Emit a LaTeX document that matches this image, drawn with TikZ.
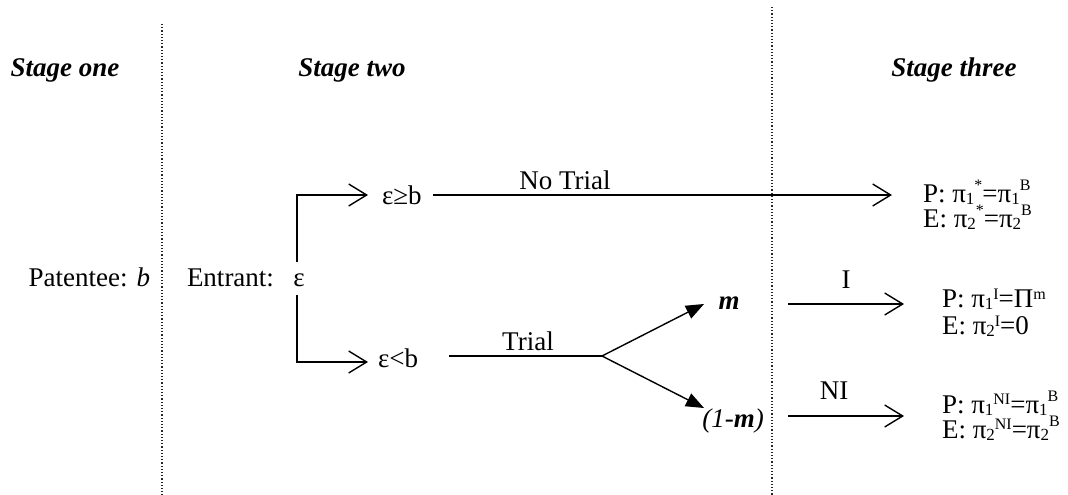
\documentclass[tikz,border=0pt]{standalone}
\usepackage{fontspec}
\setmainfont{Liberation Serif}
\usetikzlibrary{arrows.meta}
\newcommand{\mylo}[1]{\raisebox{-2.5pt}{\fontsize{17}{17}\selectfont #1}}
\newcommand{\myhi}[2][12pt]{\raisebox{#1}{\fontsize{16}{16}\selectfont #2}}
\tikzset{
  txt/.style={inner sep=0pt, outer sep=0pt, anchor=base},
  stagetitle/.style={inner sep=0pt, anchor=base, font=\fontsize{27}{32}\selectfont\bfseries\itshape},
  conn/.style={line width=1.4pt},
  openarrow/.style={conn, -{Straight Barb[length=18pt,width=22pt,line width=1.4pt]}},
  filledarrow/.style={conn, -{Triangle[length=18pt,width=14pt]}},
  divider/.style={dotted, line width=1.2pt, black!85}
}
\begin{document}
\begin{tikzpicture}[x=1pt,y=-1pt, font=\fontsize{27}{32}\selectfont]
\useasboundingbox (0,0) rectangle (1068,495);
% dividers
\draw[divider] (162,24) -- (162,495);
\draw[divider] (772,7) -- (772,495);
% stage titles
\node[stagetitle] (s1) at (65,77) {Stage one};
\node[stagetitle] (s2) at (352,77) {Stage two};
\node[stagetitle] (s3) at (954,77) {Stage three};
% players
\node[txt, anchor=base east] (pat) at (150,286) {Patentee: \textit{b}};
\node[txt, anchor=base west] (ent) at (187,286) {Entrant:};
\node[txt] (eps) at (299,286) {ε};
% stage two choices
\node[txt, anchor=base west] (ge) at (382,204) {ε≥b};
\node[txt, anchor=base west] (lt) at (378,367) {ε<b};
\coordinate (up) at (297,262);
\coordinate (dn) at (297,295);
\coordinate (geTip) at (368,195);
\coordinate (ltTip) at (368,362);
\draw[openarrow] (up) |- (geTip);
\draw[openarrow] (dn) |- (ltTip);
% No trial
\coordinate (ntS) at (433,195);
\coordinate (ntE) at (892,195);
\draw[openarrow] (ntS) -- (ntE);
\node[txt] (ntl) at (565,189) {No Trial};
% Trial
\coordinate (trS) at (449,356);
\coordinate (br) at (602,356);
\draw[conn] (trS) -- (br);
\node[txt] (trl) at (528,350) {Trial};
\node[txt] (m) at (729,309) {\textbf{\textit{m}}};
\node[txt] (m1) at (733,427) {\textit{(1-}\textbf{\textit{m}}\textit{)}};
\coordinate (mTip) at (704,304);
\coordinate (m1Tip) at (704,408);
\draw[filledarrow] (br) -- (mTip);
\draw[filledarrow] (br) -- (m1Tip);
% stage three arrows
\coordinate (iS) at (788,304);
\coordinate (iE) at (904,304);
\draw[openarrow] (iS) -- (iE);
\node[txt] (il) at (846,288) {I};
\coordinate (niS) at (788,416);
\coordinate (niE) at (904,416);
\draw[openarrow] (niS) -- (niE);
\node[txt] (nil) at (834,399) {NI};
% payoffs
\node[txt, anchor=base west] (pa1) at (923,202) {P: π\mylo{1}\myhi[12pt]{*}=π\mylo{1}\myhi[12pt]{B}};
\node[txt, anchor=base west] (pa2) at (923,227) {E: π\mylo{2}\myhi[12pt]{*}=π\mylo{2}\myhi[12pt]{B}};
\node[txt, anchor=base west] (pb1) at (942,307) {P: π\mylo{1}\myhi[8pt]{I}=Π\myhi[8pt]{m}};
\node[txt, anchor=base west] (pb2) at (942,334) {E: π\mylo{2}\myhi[8pt]{I}=0};
\node[txt, anchor=base west] (pc1) at (942,413) {P: π\mylo{1}\myhi[9pt]{NI}=π\mylo{1}\myhi[12pt]{B}};
\node[txt, anchor=base west] (pc2) at (942,438) {E: π\mylo{2}\myhi[9pt]{NI}=π\mylo{2}\myhi[12pt]{B}};
\end{tikzpicture}
\end{document}
